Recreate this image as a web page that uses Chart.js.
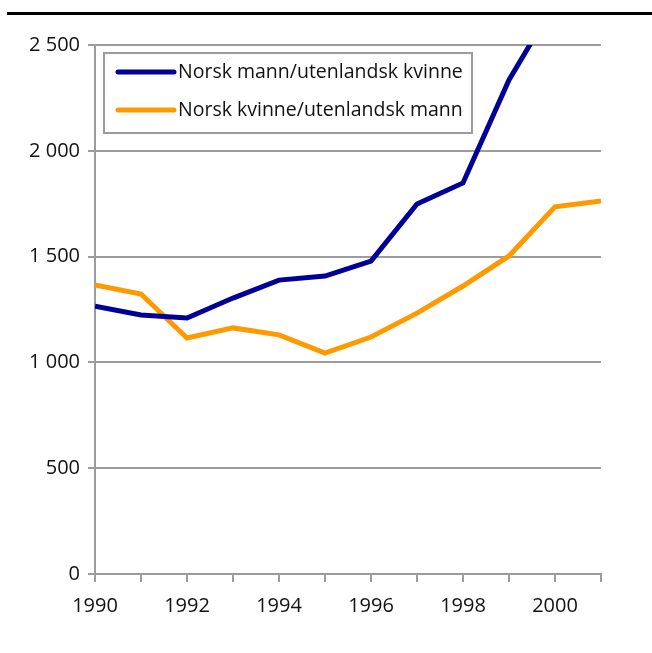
<!DOCTYPE html>
<html>
<head>
<meta charset="utf-8">
<script src="https://cdn.jsdelivr.net/npm/chart.js@4.4.1/dist/chart.umd.min.js"></script>
<style>
  html, body { margin: 0; padding: 0; background: #fff; }
  #wrap { width: 652px; height: 653px; }
</style>
</head>
<body>
<div id="wrap"><canvas id="c" width="652" height="653"></canvas></div>
<script>
// years and series
const years = [1990, 1991, 1992, 1993, 1994, 1995, 1996, 1997, 1998, 1999, 2000, 2001];
const norskMann = [1266, 1224, 1210, 1304, 1389, 1408, 1479, 1749, 1848, 2335, 2700, 2950];
const norskKvinne = [1366, 1323, 1115, 1163, 1130, 1044, 1120, 1233, 1361, 1503, 1735, 1763];
const seriesLabels = ['Norsk mann/utenlandsk kvinne', 'Norsk kvinne/utenlandsk mann'];
const yTicks = [0, 500, 1000, 1500, 2000, 2500];

const GREY = '#9c9c9c';
const BLUE = '#000099';
const ORANGE = '#ff9900';
const FONT = "'Open Sans', 'DejaVu Sans', sans-serif";

function fmt(v) {
  return String(v).replace(/\B(?=(\d{3})+(?!\d))/g, ' ');
}

// boxed legend + rule at the top
const boxLegend = {
  id: 'boxLegend',
  afterDraw(chart) {
    const ctx = chart.ctx;
    const a = chart.chartArea;
    ctx.save();
    // top rule
    ctx.strokeStyle = '#000';
    ctx.lineWidth = 3;
    ctx.beginPath();
    ctx.moveTo(7, 13.5);
    ctx.lineTo(652, 13.5);
    ctx.stroke();

    const x0 = a.left + 9, y0 = a.top + 8;
    const w = 368, h = 80;
    ctx.fillStyle = '#fff';
    ctx.fillRect(x0, y0, w, h);
    ctx.strokeStyle = GREY;
    ctx.lineWidth = 2;
    ctx.strokeRect(x0, y0, w, h);

    const colors = [BLUE, ORANGE];
    ctx.font = '19.5px ' + FONT;
    ctx.textBaseline = 'middle';
    seriesLabels.forEach((lbl, i) => {
      const y = y0 + 19 + i * 38;
      ctx.strokeStyle = colors[i];
      ctx.lineWidth = 5;
      ctx.lineCap = 'round';
      ctx.beginPath();
      ctx.moveTo(x0 + 14, y);
      ctx.lineTo(x0 + 70, y);
      ctx.stroke();
      ctx.fillStyle = '#111';
      ctx.fillText(lbl, x0 + 74, y);
    });
    ctx.restore();
  }
};

new Chart(document.getElementById('c'), {
  type: 'line',
  data: {
    datasets: [
      {
        label: seriesLabels[0],
        data: years.map((y, i) => ({ x: y, y: norskMann[i] })),
        borderColor: BLUE,
        borderWidth: 5,
        pointRadius: 0,
        tension: 0,
        clip: 0
      },
      {
        label: seriesLabels[1],
        data: years.map((y, i) => ({ x: y, y: norskKvinne[i] })),
        borderColor: ORANGE,
        borderWidth: 5,
        pointRadius: 0,
        tension: 0,
        clip: 0
      }
    ]
  },
  options: {
    responsive: false,
    animation: false,
    layout: { padding: { top: 45, right: 51, left: 0, bottom: 0 } },
    plugins: {
      legend: { display: false },
      tooltip: { enabled: false }
    },
    scales: {
      x: {
        type: 'linear',
        min: 1990,
        max: 2001,
        afterBuildTicks: s => { s.ticks = years.map(v => ({ value: v })); },
        afterFit: s => { s.height = 79; },
        ticks: {
          autoSkip: false,
          maxRotation: 0,
          padding: 12,
          color: '#111',
          font: { family: FONT, size: 20 },
          callback: v => (v % 2 === 0 ? String(v) : '')
        },
        grid: {
          drawOnChartArea: false,
          drawTicks: true,
          tickLength: 8,
          color: GREY,
          lineWidth: 2
        },
        border: { display: true, color: GREY, width: 2 }
      },
      y: {
        min: 0,
        max: 2500,
        afterBuildTicks: s => { s.ticks = yTicks.map(v => ({ value: v })); },
        afterFit: s => { s.width = 95; },
        ticks: {
          padding: 8,
          color: '#111',
          font: { family: FONT, size: 20 },
          callback: v => fmt(v)
        },
        grid: {
          drawTicks: true,
          tickLength: 7,
          color: GREY,
          lineWidth: 2
        },
        border: { display: true, color: GREY, width: 2 }
      }
    }
  },
  plugins: [boxLegend]
});
</script>
</body>
</html>
